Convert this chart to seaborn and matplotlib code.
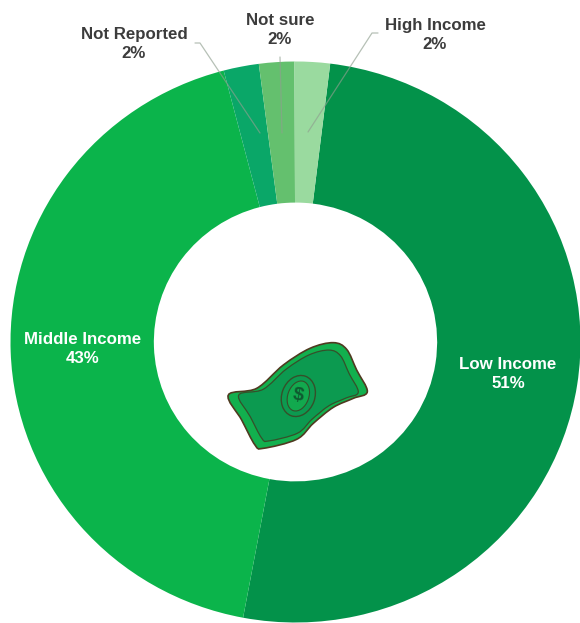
import matplotlib
matplotlib.use("Agg")
import matplotlib.pyplot as plt
from matplotlib.patches import Ellipse, PathPatch
from matplotlib.path import Path
import seaborn as sns

categories = ["Low Income", "Middle Income", "Not Reported", "Not sure", "High Income"]
shares = [51, 43, 2, 2, 2]
slice_colors = ["#03924A", "#0BB44B", "#0AA768", "#64C06E", "#9ADA9F"]

W, H = 580, 623
# Ring centre and radii in pixels; the ring is slightly wider than it is tall
CX, CY, RX, RY = 295.5, 342, 285, 280.5
HOLE_RATIO = 0.497

sns.set_theme(style="white")
plt.rcParams["font.family"] = ["Liberation Sans", "DejaVu Sans"]

fig = plt.figure(figsize=(W / 100, H / 100), dpi=100, facecolor="white")
ax = fig.add_axes([0, 0, 1, 1])
ax.pie(
    shares,
    colors=sns.color_palette(slice_colors),
    startangle=83,
    counterclock=False,
    radius=1,
    wedgeprops=dict(width=1 - HOLE_RATIO, linewidth=0),
)
ax.set_aspect("auto")
ax.set_xlim(-CX / RX, (W - CX) / RX)
ax.set_ylim((CY - H) / RY, CY / RY)
ax.axis("off")

# Overlay in pixel units for the labels, leader lines and the banknote icon
top = fig.add_axes([0, 0, 1, 1], facecolor="none")
top.set_xlim(0, W)
top.set_ylim(H, 0)
top.axis("off")

label_style = dict(ha="center", va="center", fontsize=12.2, fontweight="bold", linespacing=1.36)
dark = "#3C3C3C"
top.text(83, 349, f"{categories[1]}\n{shares[1]}%", color="white", **label_style)
top.text(508, 374, f"{categories[0]}\n{shares[0]}%", color="white", **label_style)
top.text(134, 44, f"{categories[2]}\n{shares[2]}%", color=dark, **label_style)
top.text(280, 30, f"{categories[3]}\n{shares[3]}%", color=dark, **label_style)
top.text(435, 35, f"{categories[4]}\n{shares[4]}%", color=dark, **label_style)

leader = dict(color="#8F9F8F", lw=0.9, alpha=0.65, solid_capstyle="round")
top.plot([195, 200, 260], [43, 43, 133], **leader)
top.plot([280, 282], [57, 133], **leader)
top.plot([378, 372, 308], [33, 33, 132], **leader)


# Banknote outline is traced on a 3x grid anchored at the icon's corner
def grid(x, y):
    return 200 + x / 3, 320 + y / 3


def closed_curve(points, scale=1.0):
    mx = sum(p[0] for p in points) / len(points)
    my = sum(p[1] for p in points) / len(points)
    pts = [grid(mx + (x - mx) * scale, my + (y - my) * scale) for x, y in points]
    verts = [pts[0]]
    codes = [Path.MOVETO]
    n = len(pts)
    for i in range(n):
        p0, p1, p2, p3 = pts[i - 1], pts[i], pts[(i + 1) % n], pts[(i + 2) % n]
        c1 = (p1[0] + (p2[0] - p0[0]) / 6, p1[1] + (p2[1] - p0[1]) / 6)
        c2 = (p2[0] - (p3[0] - p1[0]) / 6, p2[1] - (p3[1] - p1[1]) / 6)
        verts += [c1, c2, p2]
        codes += [Path.CURVE4] * 3
    return Path(verts, codes)


bill_outline = [
    (85, 225), (170, 205), (250, 135), (330, 85), (400, 68), (440, 88),
    (470, 150), (502, 215), (460, 235), (400, 262), (340, 310), (290, 358),
    (190, 385), (165, 375), (125, 300),
]
top.add_patch(PathPatch(closed_curve(bill_outline), fc="#12B04E", ec="#4F3A20", lw=1.2, zorder=3))
top.add_patch(PathPatch(closed_curve(bill_outline, 0.86), fc="#0C9A50", ec="#35502A", lw=0.9, zorder=4))
centre = grid(295, 228)
top.add_patch(Ellipse(centre, 33, 42, angle=20, fc="#0C9A50", ec="#35502A", lw=1.0, zorder=5))
top.add_patch(Ellipse(centre, 21, 31, angle=20, fc="#12A94E", ec="#35502A", lw=0.8, zorder=5))
top.text(*centre, "$", color="#0E5A30", fontsize=14, fontweight="bold",
         ha="center", va="center", rotation=-10, zorder=6)

fig.savefig("out.png", dpi=100, facecolor="white")
